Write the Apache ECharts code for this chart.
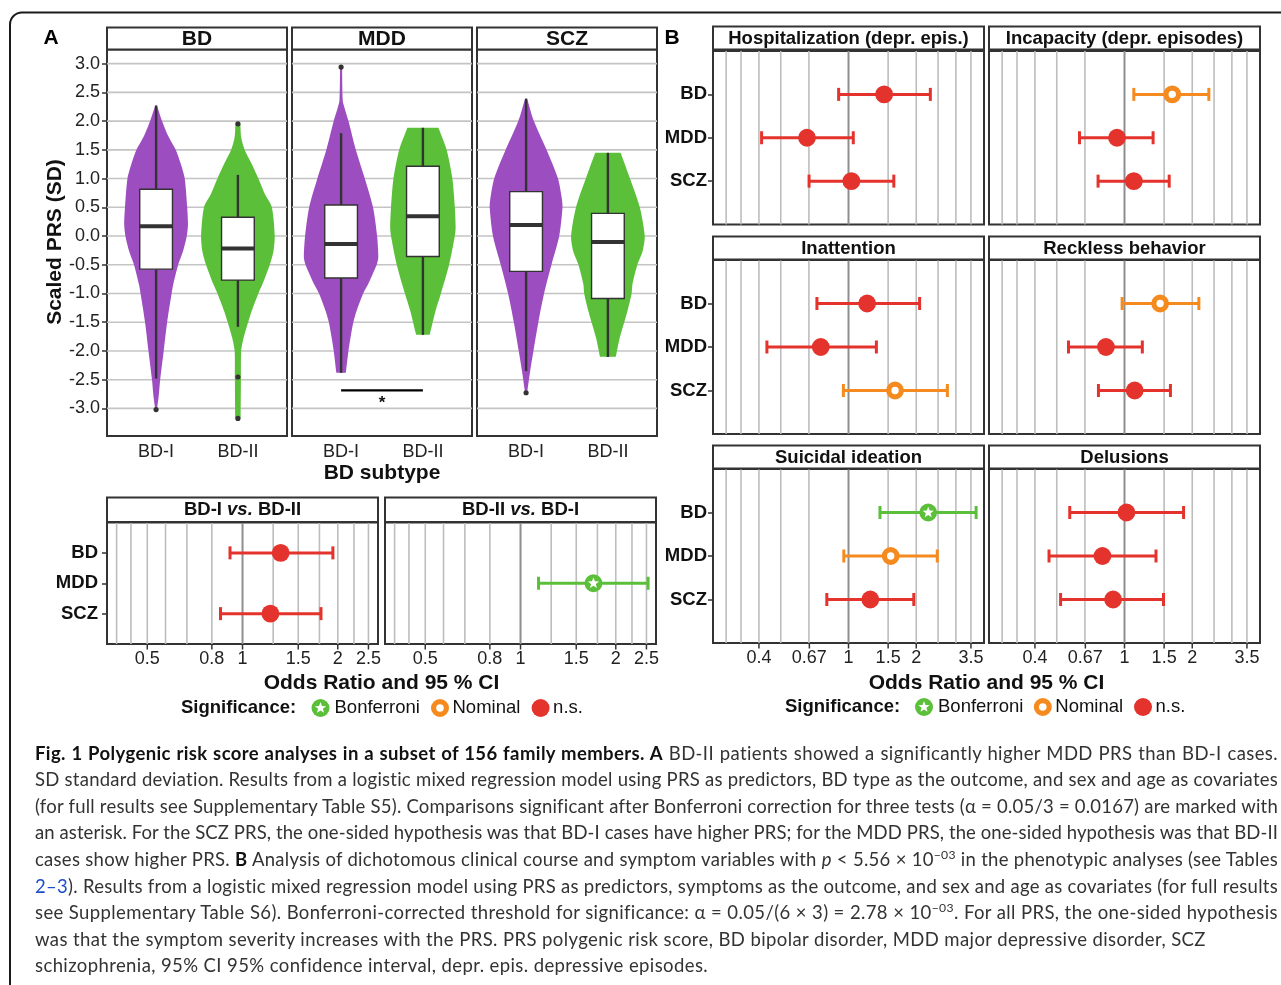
<!DOCTYPE html>
<html>
<head>
<meta charset="utf-8">
<script src="https://cdn.jsdelivr.net/npm/echarts@6/dist/echarts.min.js"></script>
<style>
html,body{margin:0;padding:0;background:#fff;overflow:hidden;width:1281px;height:985px;}
#chart{position:absolute;left:0;top:0;width:1281px;height:985px;}
#caption{position:absolute;left:35px;top:739.7px;width:1243px;font-family:Lato,'Open Sans','Noto Sans',sans-serif;font-size:18.5px;letter-spacing:0.4px;line-height:26.6px;color:#333;z-index:2;}
#caption .l{text-align:justify;text-align-last:justify;white-space:normal;}
#caption .r{text-align:left;}
#caption b{color:#111;font-weight:bold;}
#caption sup{font-size:0.66em;line-height:0;vertical-align:0.6em;}
#caption .lk{color:#1d4fc9;}
</style>
</head>
<body>
<div id="chart"></div>
<div id="caption">
<div class="l"><b>Fig. 1 Polygenic risk score analyses in a subset of 156 family members. A</b> BD-II patients showed a significantly higher MDD PRS than BD-I cases.</div>
<div class="l">SD standard deviation. Results from a logistic mixed regression model using PRS as predictors, BD type as the outcome, and sex and age as covariates</div>
<div class="l">(for full results see Supplementary Table S5). Comparisons significant after Bonferroni correction for three tests (α = 0.05/3 = 0.0167) are marked with</div>
<div class="l">an asterisk. For the SCZ PRS, the one-sided hypothesis was that BD-I cases have higher PRS; for the MDD PRS, the one-sided hypothesis was that BD-II</div>
<div class="l">cases show higher PRS. <b>B</b> Analysis of dichotomous clinical course and symptom variables with <i>p</i> &lt; 5.56 × 10<sup>−03</sup> in the phenotypic analyses (see Tables</div>
<div class="l"><span class="lk">2–3</span>). Results from a logistic mixed regression model using PRS as predictors, symptoms as the outcome, and sex and age as covariates (for full results</div>
<div class="l">see Supplementary Table S6). Bonferroni-corrected threshold for significance: α = 0.05/(6 × 3) = 2.78 × 10<sup>−03</sup>. For all PRS, the one-sided hypothesis</div>
<div class="r">was that the symptom severity increases with the PRS. PRS polygenic risk score, BD bipolar disorder, MDD major depressive disorder, SCZ</div>
<div class="r">schizophrenia, 95% CI 95% confidence interval, depr. epis. depressive episodes.</div>
</div>
<script>
// ---------------- DATA ----------------
const subtypes = ['BD-I', 'BD-II'];
const prsNames = ['BD', 'MDD', 'SCZ'];
const prsTicks = [3, 2.5, 2, 1.5, 1, 0.5, 0, -0.5, -1, -1.5, -2, -2.5, -3];

// violin outlines: [scaled PRS, half width (x-axis units)], top to bottom
const violinBD_I = [[2.27,0.01],[2.0,0.073],[1.75,0.145],[1.5,0.24],[1.26,0.30],[1.0,0.35],[0.5,0.38],[0.21,0.39],[0.0,0.375],[-0.26,0.33],[-0.5,0.27],[-0.84,0.21],[-1.0,0.19],[-1.5,0.135],[-2.0,0.093],[-2.5,0.05],[-2.81,0.03],[-3.02,0.01]];
const violinBD_II = [[1.95,0.03],[1.72,0.04],[1.5,0.083],[1.26,0.166],[1.0,0.25],[0.73,0.33],[0.5,0.415],[0.0,0.45],[-0.26,0.435],[-0.5,0.39],[-0.84,0.30],[-1.0,0.25],[-1.3,0.17],[-1.5,0.125],[-1.77,0.07],[-2.0,0.04],[-2.5,0.037],[-3.17,0.033]];
const violinMDD_I = [[2.94,0.012],[2.36,0.02],[2.24,0.04],[2.0,0.09],[1.5,0.18],[1.0,0.29],[0.5,0.39],[0.0,0.44],[-0.37,0.455],[-0.5,0.435],[-0.84,0.33],[-1.0,0.27],[-1.3,0.19],[-1.5,0.15],[-1.77,0.115],[-2.0,0.09],[-2.38,0.058]];
const violinMDD_II = [[1.884,0.19],[1.5,0.29],[1.0,0.36],[0.5,0.39],[0.15,0.40],[0.0,0.39],[-0.5,0.32],[-1.0,0.22],[-1.3,0.155],[-1.72,0.083]];
const violinSCZ_I = [[2.39,0.012],[2.0,0.095],[1.5,0.25],[1.0,0.39],[0.67,0.435],[0.5,0.445],[0.0,0.405],[-0.5,0.31],[-1.0,0.22],[-1.5,0.15],[-2.0,0.09],[-2.35,0.05],[-2.73,0.012]];
const violinSCZ_II = [[1.448,0.155],[1.0,0.27],[0.5,0.39],[0.0,0.45],[-0.26,0.425],[-0.5,0.36],[-0.84,0.30],[-1.0,0.29],[-1.3,0.24],[-1.5,0.20],[-1.77,0.145],[-2.1,0.097]];

// boxes: [lower whisker, Q1, median, Q3, upper whisker] for BD-I, BD-II
const boxBD = [[-2.48,-0.576,0.169,0.814,2.27],[-1.58,-0.767,-0.215,0.326,1.064]];
const boxMDD = [[-2.38,-0.73,-0.14,0.54,1.79],[-1.72,-0.355,0.343,1.215,1.884]];
const boxSCZ = [[-2.35,-0.616,0.19,0.773,2.39],[-2.105,-1.087,-0.105,0.395,1.448]];
const outliersBD = [[-3.02],[1.953,-2.453,-3.174]];
const outliersMDD = [[2.94],[]];
const outliersSCZ = [[-2.727],[]];
const sigBarMDD = [1, 2, -2.686];     // from subtype, to subtype, PRS level
const sigStarMDD = [1.5, -2.87];

// forest plots
const sigKinds = ['Bonferroni', 'Nominal', 'n.s.'];
const aTickVals = [0.5, 0.8, 1, 1.5, 2, 2.5];
const aTickLabels = ['0.5', '0.8', '1', '1.5', '2', '2.5'];
const aGridVals = [0.4, 0.444, 0.5, 0.571, 0.667, 0.8, 1, 1.25, 1.5, 1.75, 2, 2.25, 2.5];
const bTickVals = [0.4, 0.67, 1, 1.5, 2, 3.5];
const bTickLabels = ['0.4', '0.67', '1', '1.5', '2', '3.5'];
const bGridVals = [0.286, 0.333, 0.4, 0.5, 0.667, 1, 1.5, 2, 2.5, 3, 3.5];

const bd1vs2Rows = ['BD', 'SCZ'];
const bd1vs2OR = [1.32, 1.225];
const bd1vs2Lo = [0.913, 0.852];
const bd1vs2Hi = [1.93, 1.77];
const bd1vs2Sig = ['n.s.', 'n.s.'];
const bd2vs1Rows = ['MDD'];
const bd2vs1OR = [1.70];
const bd2vs1Lo = [1.14];
const bd2vs1Hi = [2.53];
const bd2vs1Sig = ['Bonferroni'];

const rowsB = ['BD', 'MDD', 'SCZ'];
const hospOR = [1.44, 0.654, 1.03], hospLo = [0.904, 0.411, 0.668], hospHi = [2.31, 1.05, 1.59], hospSig = ['n.s.', 'n.s.', 'n.s.'];
const incapOR = [1.63, 0.926, 1.10], incapLo = [1.10, 0.631, 0.763], incapHi = [2.37, 1.34, 1.58], incapSig = ['Nominal', 'n.s.', 'n.s.'];
const inattOR = [1.21, 0.753, 1.61], inattLo = [0.724, 0.434, 0.949], inattHi = [2.07, 1.33, 2.75], inattSig = ['n.s.', 'n.s.', 'Nominal'];
const recklOR = [1.44, 0.827, 1.11], recklLo = [0.976, 0.564, 0.766], recklHi = [2.14, 1.20, 1.60], recklSig = ['Nominal', 'n.s.', 'n.s.'];
const suicOR = [2.26, 1.54, 1.25], suicLo = [1.38, 0.953, 0.801], suicHi = [3.69, 2.48, 1.95], suicSig = ['Bonferroni', 'Nominal', 'n.s.'];
const delusOR = [1.02, 0.798, 0.89], delusLo = [0.571, 0.462, 0.52], delusHi = [1.83, 1.38, 1.49], delusSig = ['n.s.', 'n.s.', 'n.s.'];
const bTitles = ['Hospitalization (depr. epis.)', 'Incapacity (depr. episodes)', 'Inattention', 'Reckless behavior', 'Suicidal ideation', 'Delusions'];

// ---------------- STYLE ----------------
const FONT = "'Liberation Sans', Arial, Helvetica, sans-serif";
const DARK = '#333333';
const PURPLE = '#9C4DBF', GREEN = '#5CBF3A', RED = '#E3332C', ORANGE = '#F58A1E';
const sigColors = [GREEN, ORANGE, RED];
const yCats = ['', 'SCZ', 'MDD', 'BD', ''];

const grids = [], xAxes = [], yAxes = [], series = [], graphics = [];

function addGrid(left, top, width, height) {
  grids.push({left, top, width, height, show: true, backgroundColor: '#fff', borderColor: DARK, borderWidth: 2, containLabel: false, outerBoundsMode: 'none'});
  return grids.length - 1;
}

function starPoints(cx, cy, R, r) {
  const pts = [];
  for (let k = 0; k < 10; k++) {
    const a = -Math.PI / 2 + k * Math.PI / 5;
    const rad = k % 2 === 0 ? R : r;
    pts.push([cx + rad * Math.cos(a), cy + rad * Math.sin(a)]);
  }
  return pts;
}

function markerEls(kind, cx, cy, R) {
  if (kind === 0) {
    return [
      {type: 'circle', shape: {cx, cy, r: R}, style: {fill: GREEN}},
      {type: 'polygon', shape: {points: starPoints(cx, cy, R * 0.66, R * 0.28)}, style: {fill: '#fff'}}
    ];
  }
  if (kind === 1) {
    return [{type: 'circle', shape: {cx, cy, r: R - 2.6}, style: {fill: '#fff', stroke: ORANGE, lineWidth: 5.2}}];
  }
  return [{type: 'circle', shape: {cx, cy, r: R}, style: {fill: RED}}];
}

// ---------- Panel A: violins ----------
const violinLeft = [107, 292, 477];
const violinProfiles = [[violinBD_I, violinBD_II], [violinMDD_I, violinMDD_II], [violinSCZ_I, violinSCZ_II]];
const boxes = [boxBD, boxMDD, boxSCZ];
const outliers = [outliersBD, outliersMDD, outliersSCZ];
const violinColors = [PURPLE, GREEN];

for (let p = 0; p < 3; p++) {
  const gi = addGrid(violinLeft[p], 49.5, 180, 386.5);
  xAxes.push({gridIndex: gi, type: 'value', min: 0.4, max: 2.6,
    axisLine: {show: false}, splitLine: {show: false},
    axisTick: {customValues: [1, 2], length: 5, lineStyle: {color: DARK, width: 1.5}},
    axisLabel: {customValues: [1, 2], formatter: v => subtypes[Math.round(v) - 1], fontSize: 18, color: '#222', margin: 7, fontFamily: FONT}});
  yAxes.push({gridIndex: gi, type: 'value', min: -3.48, max: 3.246,
    axisLine: {show: false}, splitLine: {show: false},
    axisTick: {show: p === 0, customValues: prsTicks, length: 5, lineStyle: {color: DARK, width: 1.5}},
    axisLabel: {show: p === 0, customValues: prsTicks, formatter: v => v.toFixed(1), fontSize: 18, color: '#222', margin: 7, fontFamily: FONT}});
  // horizontal grid lines
  series.push({type: 'custom', xAxisIndex: gi, yAxisIndex: gi, z: 1, silent: true, clip: false,
    data: prsTicks.map(v => [1, v]),
    renderItem(params, api) {
      const cs = params.coordSys; const pt = api.coord([1, api.value(1)]);
      return {type: 'line', shape: {x1: cs.x, y1: pt[1], x2: cs.x + cs.width, y2: pt[1]}, style: {stroke: '#c4c4c4', lineWidth: 1.6}};
    }});
  // violins (end points doubled so the flat trimmed ends keep sharp corners)
  const profs = violinProfiles[p];
  series.push({type: 'custom', xAxisIndex: gi, yAxisIndex: gi, z: 2, silent: true, clip: false,
    data: profs.map((pr, i) => [i + 1, pr[0][0]]),
    renderItem(params, api) {
      const prof = profs[params.dataIndex];
      const xc = api.value(0);
      const left = prof.map(d => api.coord([xc - d[1], d[0]]));
      const right = prof.map(d => api.coord([xc + d[1], d[0]])).reverse();
      const pts = [left[0]].concat(left, [left[left.length - 1]], [right[0]], right, [right[right.length - 1]]);
      return {type: 'polygon', shape: {points: pts, smooth: 0.25}, style: {fill: violinColors[params.dataIndex]}};
    }});
  // boxplots
  const bx = boxes[p], outs = outliers[p];
  series.push({type: 'custom', xAxisIndex: gi, yAxisIndex: gi, z: 3, silent: true, clip: false,
    data: bx.map((b, i) => [i + 1, b[0], b[1], b[2], b[3], b[4]]),
    renderItem(params, api) {
      const xc = api.value(0);
      const lw = api.value(1), q1 = api.value(2), med = api.value(3), q3 = api.value(4), uw = api.value(5);
      const pUW = api.coord([xc, uw]), pQ3 = api.coord([xc, q3]), pQ1 = api.coord([xc, q1]), pLW = api.coord([xc, lw]);
      const tl = api.coord([xc - 0.2, q3]), br = api.coord([xc + 0.2, q1]);
      const mL = api.coord([xc - 0.2, med]), mR = api.coord([xc + 0.2, med]);
      const ch = [
        {type: 'line', shape: {x1: pUW[0], y1: pUW[1], x2: pQ3[0], y2: pQ3[1]}, style: {stroke: DARK, lineWidth: 2.4}},
        {type: 'line', shape: {x1: pQ1[0], y1: pQ1[1], x2: pLW[0], y2: pLW[1]}, style: {stroke: DARK, lineWidth: 2.4}},
        {type: 'rect', shape: {x: tl[0], y: tl[1], width: br[0] - tl[0], height: br[1] - tl[1]}, style: {fill: '#fff', stroke: DARK, lineWidth: 1.4}},
        {type: 'line', shape: {x1: mL[0], y1: mL[1], x2: mR[0], y2: mR[1]}, style: {stroke: DARK, lineWidth: 4}}
      ];
      outs[params.dataIndex].forEach(o => {
        const po = api.coord([xc, o]);
        ch.push({type: 'circle', shape: {cx: po[0], cy: po[1], r: 2.6}, style: {fill: DARK}});
      });
      return {type: 'group', children: ch};
    }});
  if (p === 1) {
    series.push({type: 'custom', xAxisIndex: gi, yAxisIndex: gi, z: 4, silent: true, clip: false,
      data: [[sigBarMDD[0], sigBarMDD[2], sigBarMDD[1], sigStarMDD[0], sigStarMDD[1]]],
      renderItem(params, api) {
        const a = api.coord([api.value(0), api.value(1)]);
        const b = api.coord([api.value(2), api.value(1)]);
        const s = api.coord([api.value(3), api.value(4)]);
        return {type: 'group', children: [
          {type: 'line', shape: {x1: a[0], y1: a[1], x2: b[0], y2: b[1]}, style: {stroke: '#000', lineWidth: 2.2}},
          {type: 'text', x: s[0], y: s[1] + 2, style: {text: '*', align: 'center', verticalAlign: 'middle', fontSize: 17, fontWeight: 'bold', fontFamily: FONT, fill: '#111'}}
        ]};
      }});
  }
}

// ---------- forest plots ----------
function forestPanel(left, top, width, height, min, max, gridVals, tickVals, tickLabels, showX, showY, yMargin, rows, or, lo, hi, sig) {
  const gi = addGrid(left, top, width, height);
  xAxes.push({gridIndex: gi, type: 'log', logBase: 10, min, max,
    axisLine: {show: false}, splitLine: {show: false}, axisTick: {show: false}, axisLabel: {show: false}, minorTick: {show: false}, minorSplitLine: {show: false}});
  yAxes.push({gridIndex: gi, type: 'category', data: yCats, boundaryGap: false,
    axisLine: {show: false}, splitLine: {show: false},
    axisTick: {show: showY, interval: (i, v) => v !== '', length: 5, lineStyle: {color: DARK, width: 1.5}},
    axisLabel: {show: showY, interval: (i, v) => v !== '', fontSize: 18.5, fontWeight: 'bold', color: '#111', margin: yMargin, fontFamily: FONT}});
  // vertical grid lines
  series.push({type: 'custom', xAxisIndex: gi, yAxisIndex: gi, z: 1, silent: true, clip: false,
    data: gridVals.map(v => [v, 0]),
    renderItem(params, api) {
      const cs = params.coordSys; const v = api.value(0); const pt = api.coord([v, 0]);
      const isOne = Math.abs(v - 1) < 1e-9;
      return {type: 'line', shape: {x1: pt[0], y1: cs.y, x2: pt[0], y2: cs.y + cs.height},
        style: {stroke: isOne ? '#8e8e8e' : '#bdbdbd', lineWidth: isOne ? 2 : 1.6}};
    }});
  if (showX) {
    series.push({type: 'custom', xAxisIndex: gi, yAxisIndex: gi, z: 6, silent: true, clip: false,
      data: tickVals.map((t, i) => [t, 0, i]),
      renderItem(params, api) {
        const cs = params.coordSys; const pt = api.coord([api.value(0), 0]); const yb = cs.y + cs.height;
        return {type: 'group', children: [
          {type: 'line', shape: {x1: pt[0], y1: yb + 1, x2: pt[0], y2: yb + 5.5}, style: {stroke: DARK, lineWidth: 1.5}},
          {type: 'text', x: pt[0], y: yb + 6.5, style: {text: tickLabels[api.value(2)], align: 'center', verticalAlign: 'top', fontSize: 18, fontFamily: FONT, fill: '#222'}}
        ]};
      }});
  }
  // error bars + points
  series.push({type: 'custom', xAxisIndex: gi, yAxisIndex: gi, z: 5, silent: true, clip: false,
    data: rows.map((r, i) => [or[i], yCats.indexOf(r), lo[i], hi[i], sigKinds.indexOf(sig[i])]),
    renderItem(params, api) {
      const y = api.value(1);
      const pO = api.coord([api.value(0), y]);
      const pL = api.coord([api.value(2), y]);
      const pH = api.coord([api.value(3), y]);
      const kind = api.value(4);
      const col = sigColors[kind];
      const ch = [
        {type: 'line', shape: {x1: pL[0], y1: pL[1], x2: pH[0], y2: pH[1]}, style: {stroke: col, lineWidth: 3}},
        {type: 'line', shape: {x1: pL[0], y1: pL[1] - 6.5, x2: pL[0], y2: pL[1] + 6.5}, style: {stroke: col, lineWidth: 3}},
        {type: 'line', shape: {x1: pH[0], y1: pH[1] - 6.5, x2: pH[0], y2: pH[1] + 6.5}, style: {stroke: col, lineWidth: 3}}
      ].concat(markerEls(kind, pO[0], pO[1], 8.9));
      return {type: 'group', children: ch};
    }});
  return gi;
}

// Panel A bottom
forestPanel(107, 522.5, 271, 121.5, 0.373, 2.68, aGridVals, aTickVals, aTickLabels, true, true, 9, bd1vs2Rows, bd1vs2OR, bd1vs2Lo, bd1vs2Hi, bd1vs2Sig);
forestPanel(385, 522.5, 271, 121.5, 0.373, 2.68, aGridVals, aTickVals, aTickLabels, true, false, 9, bd2vs1Rows, bd2vs1OR, bd2vs1Lo, bd2vs1Hi, bd2vs1Sig);

// Panel B
const bLeft = [713, 989];
const bTop = [51, 260, 469];
const bHeight = [173.5, 174, 174];
const bData = [
  [hospOR, hospLo, hospHi, hospSig], [incapOR, incapLo, incapHi, incapSig],
  [inattOR, inattLo, inattHi, inattSig], [recklOR, recklLo, recklHi, recklSig],
  [suicOR, suicLo, suicHi, suicSig], [delusOR, delusLo, delusHi, delusSig]
];
for (let r = 0; r < 3; r++) {
  for (let c = 0; c < 2; c++) {
    const d = bData[r * 2 + c];
    forestPanel(bLeft[c], bTop[r], 271, bHeight[r], 0.25, 4, bGridVals, bTickVals, bTickLabels, r === 2, c === 0, 6, rowsB, d[0], d[1], d[2], d[3]);
  }
}

// ---------- graphics: frame, strips, titles, legends ----------
graphics.push({type: 'rect', z: 50, silent: true, shape: {x: 10, y: 12.5, width: 1400, height: 1300, r: 12}, style: {fill: 'none', stroke: '#1a1a1a', lineWidth: 2}});

function addText(x, y, text, opts) {
  graphics.push(Object.assign({type: 'text', z: 70, silent: true, x, y,
    style: Object.assign({text, align: 'center', verticalAlign: 'middle', fontSize: 21, fontWeight: 'bold', fontFamily: FONT, fill: '#111'}, opts || {})}));
}
function addStrip(x, y, w, h, text, fontSize, rich) {
  graphics.push({type: 'rect', z: 60, silent: true, shape: {x, y, width: w, height: h}, style: {fill: '#fff', stroke: DARK, lineWidth: 2}});
  const st = {text, align: 'center', verticalAlign: 'middle', fontSize, fontWeight: 'bold', fontFamily: FONT, fill: '#111'};
  if (rich) st.rich = rich;
  graphics.push({type: 'text', z: 61, silent: true, x: x + w / 2, y: y + h / 2 + 0.5, style: st});
}

addText(51, 38, 'A', {fontSize: 21, fill: '#000'});
addText(672, 38, 'B', {fontSize: 21, fill: '#000'});

for (let p = 0; p < 3; p++) addStrip(violinLeft[p], 27.5, 180, 22, prsNames[p], 21);
const richVs = {
  n: {fontSize: 18.5, fontWeight: 'bold', fontFamily: FONT, fill: '#111'},
  i: {fontSize: 18.5, fontWeight: 'bold', fontStyle: 'italic', fontFamily: FONT, fill: '#111'}
};
addStrip(107, 497.5, 271, 24.5, '{n|BD-I }{i|vs.}{n| BD-II}', 18.5, richVs);
addStrip(385, 497.5, 271, 24.5, '{n|BD-II }{i|vs.}{n| BD-I}', 18.5, richVs);
const bStripTop = [26.5, 236.5, 445.5];
for (let r = 0; r < 3; r++) for (let c = 0; c < 2; c++) addStrip(bLeft[c], bStripTop[r], 271, 23, bTitles[r * 2 + c], 18.5);

graphics.push({type: 'text', z: 70, silent: true, x: 55, y: 242, rotation: Math.PI / 2,
  style: {text: 'Scaled PRS (SD)', align: 'center', verticalAlign: 'middle', fontSize: 21, fontWeight: 'bold', fontFamily: FONT, fill: '#111'}});
addText(382, 473, 'BD subtype');
addText(381.5, 683, 'Odds Ratio and 95 % CI');
addText(986.5, 683, 'Odds Ratio and 95 % CI');

function addLegend(y, xTitle, xStar, xRing, xDot) {
  addText(xTitle, y, 'Significance:', {align: 'left', fontSize: 18.5});
  markerEls(0, xStar, y, 9).concat(markerEls(1, xRing, y, 9), markerEls(2, xDot, y, 9)).forEach(el => {
    el.z = 70; el.silent = true; graphics.push(el);
  });
  addText(xStar + 14, y, 'Bonferroni', {align: 'left', fontSize: 18.5, fontWeight: 'normal'});
  addText(xRing + 12.5, y, 'Nominal', {align: 'left', fontSize: 18.5, fontWeight: 'normal'});
  addText(xDot + 12.5, y, 'n.s.', {align: 'left', fontSize: 18.5, fontWeight: 'normal'});
}
addLegend(708, 181, 320.5, 440, 540.6);
addLegend(707, 785, 924, 1042.8, 1143);

const chart = echarts.init(document.getElementById('chart'), null, {renderer: 'canvas'});
chart.setOption({
  animation: false,
  backgroundColor: '#fff',
  textStyle: {fontFamily: FONT},
  grid: grids, xAxis: xAxes, yAxis: yAxes, series,
  graphic: {elements: graphics}
});

// caption: keep the reference line breaks; squeeze a line slightly if it is too long
const BASE_LS = 0.4;
document.querySelectorAll('#caption .l, #caption .r').forEach(el => {
  const span = document.createElement('span');
  span.style.whiteSpace = 'nowrap';
  while (el.firstChild) span.appendChild(el.firstChild);
  el.appendChild(span);
  const w = span.getBoundingClientRect().width;
  const W = el.clientWidth;
  if (w > W - 1) {
    const n = span.textContent.length;
    el.style.letterSpacing = (BASE_LS + (W - 1 - w) / n) + 'px';
  }
  while (span.firstChild) el.insertBefore(span.firstChild, span);
  el.removeChild(span);
});
</script>
</body>
</html>
